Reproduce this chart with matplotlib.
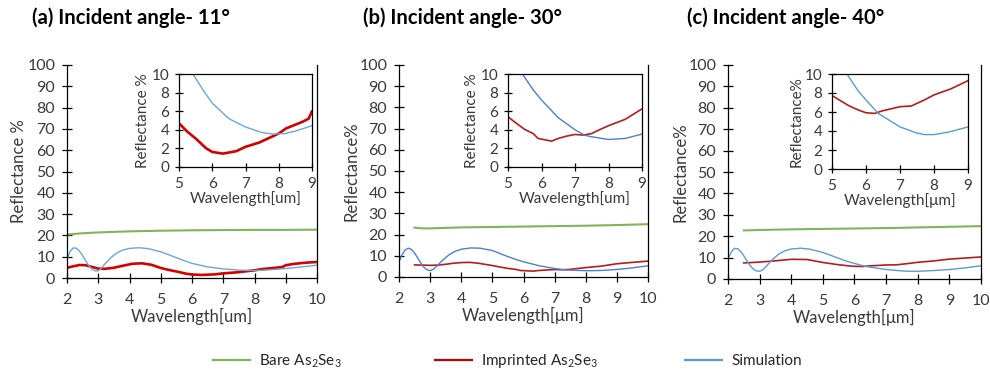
"""Reflectance spectra of bare / imprinted As2Se3 at three incident angles."""

import matplotlib
matplotlib.use("Agg")
import matplotlib.pyplot as plt

plt.rcParams["font.family"] = ["Lato", "DejaVu Sans"]
plt.rcParams["mathtext.fontset"] = "custom"
plt.rcParams["mathtext.rm"] = "Lato"

TITLES = ["(a) Incident angle- 11°", "(b) Incident angle- 30°", "(c) Incident angle- 40°"]
YLABELS = ["Reflectance %", "Reflectance%", "Reflectance%"]
XLABELS = ["Wavelength[um]", "Wavelength[μm]", "Wavelength[μm]"]
INSET_YLABELS = ["Reflectance %", "Reflectance %", "Reflectance%"]
INSET_XLABELS = ["Wavelength[um]", "Wavelength[um]", "Wavelength[μm]"]

# (a) 11 deg
bare_a_x = [2.0, 2.5, 3.0, 4.0, 5.0, 6.0, 7.0, 8.0, 9.0, 10.0]
bare_a_y = [20.4, 21.0, 21.4, 21.9, 22.2, 22.4, 22.5, 22.6, 22.6, 22.7]
imp_a_x = [2.0, 2.2, 2.4, 2.6, 2.8, 3.0, 3.2, 3.5, 3.8, 4.1, 4.4, 4.7, 5.0, 5.25, 5.5,
           5.82, 6.0, 6.32, 6.72, 7.0, 7.42, 7.72, 8.0, 8.22, 8.52, 8.72, 8.9,
           9.0, 9.25, 9.5, 9.75, 10.0]
imp_a_y = [4.8, 5.5, 6.1, 6.0, 5.2, 4.4, 4.3, 4.8, 5.8, 6.7, 6.9, 6.2, 4.7, 3.8, 3.07,
           2.0, 1.62, 1.44, 1.7, 2.17, 2.64, 3.14, 3.6, 4.15, 4.58, 4.87, 5.2,
           6.0, 6.6, 7.0, 7.3, 7.5]
sim_a_x = [2.0, 2.1, 2.2, 2.3, 2.4, 2.5, 2.6, 2.7, 2.8, 2.9, 3.0, 3.1, 3.2, 3.4, 3.6,
           3.8, 4.0, 4.3, 4.6, 5.0, 5.42, 5.72, 6.0, 6.5, 7.0, 7.5, 7.82, 8.2, 8.5, 9.0,
           9.5, 10.0]
sim_a_y = [8.7, 12.5, 14.1, 14.0, 12.6, 10.5, 8.0, 5.8, 4.1, 3.3, 3.4, 4.6, 6.4, 9.5, 11.8,
           13.2, 13.9, 14.2, 13.8, 12.3, 10.0, 8.3, 6.86, 5.2, 4.3, 3.7, 3.54, 3.6, 3.86, 4.44,
           5.2, 6.0]

# (b) 30 deg
bare_b_x = [2.5, 2.7, 2.9, 4.0, 5.0, 6.0, 7.0, 8.0, 9.0, 10.0]
bare_b_y = [23.3, 23.0, 22.9, 23.4, 23.6, 23.8, 24.0, 24.2, 24.5, 24.9]
imp_b_x = [2.5, 2.75, 3.0, 3.25, 3.5, 3.75, 4.0, 4.25, 4.5, 4.75, 5.0, 5.25, 5.5, 5.75,
           5.9, 6.0, 6.3, 6.5, 6.75, 7.0, 7.25, 7.5, 7.75, 8.0, 8.5, 9.0, 9.5, 10.0]
imp_b_y = [5.7, 5.6, 5.5, 5.6, 6.0, 6.5, 6.8, 6.9, 6.6, 6.0, 5.4, 4.7, 4.04, 3.6,
           3.07, 3.0, 2.78, 3.07, 3.32, 3.5, 3.43, 3.6, 4.04, 4.44, 5.13, 6.25, 6.9, 7.5]
sim_b_x = [2.0, 2.1, 2.2, 2.3, 2.4, 2.5, 2.6, 2.7, 2.8, 2.9, 3.0, 3.1, 3.2, 3.4, 3.6,
           3.8, 4.0, 4.3, 4.6, 5.0, 5.43, 5.75, 6.0, 6.5, 7.0, 7.3, 7.5, 8.0, 8.5, 9.0,
           9.5, 10.0]
sim_b_y = [7.2, 10.5, 12.8, 13.6, 13.0, 11.3, 9.0, 6.6, 4.6, 3.4, 3.0, 3.6, 4.9, 7.9, 10.4,
           12.1, 13.1, 13.7, 13.6, 12.5, 10.0, 8.3, 7.2, 5.3, 4.0, 3.4, 3.25, 2.96, 3.07, 3.54,
           4.3, 5.3]

# (c) 40 deg
bare_c_x = [2.5, 3.0, 4.0, 5.0, 6.0, 7.0, 8.0, 9.0, 10.0]
bare_c_y = [22.7, 22.9, 23.2, 23.4, 23.6, 23.8, 24.1, 24.4, 24.7]
imp_c_x = [2.5, 3.0, 3.5, 4.0, 4.5, 5.0, 5.49, 5.78, 6.0, 6.26, 6.46, 7.0, 7.33, 7.72,
           8.0, 8.5, 9.0, 9.5, 10.0]
imp_c_y = [7.5, 7.9, 8.5, 9.2, 9.1, 7.73, 6.67, 6.2, 5.92, 5.85, 6.1, 6.56, 6.63, 7.27,
           7.8, 8.44, 9.3, 9.8, 10.3]
sim_c_x = [2.0, 2.1, 2.2, 2.3, 2.4, 2.5, 2.6, 2.7, 2.8, 2.9, 3.0, 3.1, 3.2, 3.4, 3.6,
           3.8, 4.0, 4.3, 4.6, 5.0, 5.44, 5.78, 6.0, 6.36, 7.0, 7.48, 7.72, 8.0, 8.45, 9.0,
           9.5, 10.0]
sim_c_y = [9.3, 12.5, 14.3, 14.2, 12.9, 10.8, 8.4, 6.3, 4.6, 3.8, 3.6, 4.3, 5.8, 9.0, 11.6,
           13.2, 14.0, 14.4, 13.9, 12.4, 10.0, 8.16, 7.27, 5.85, 4.43, 3.8, 3.62, 3.62, 3.9, 4.43,
           5.2, 6.2]

PANELS = [
    (bare_a_x, bare_a_y, imp_a_x, imp_a_y, sim_a_x, sim_a_y),
    (bare_b_x, bare_b_y, imp_b_x, imp_b_y, sim_b_x, sim_b_y),
    (bare_c_x, bare_c_y, imp_c_x, imp_c_y, sim_c_x, sim_c_y),
]

GREEN = "#7db55a"
RED = ["#d40000", "#b51d1d", "#b51d1d"]
RED_LW = [1.9, 1.2, 1.2]
BLUE = ["#6aa6dc", "#4a80d4", "#5b9bd5"]
TICK_GRAY = "#3a3a3a"

# pixel boxes (left, right, top, bottom)
MAIN_BOX = [(67, 317, 65, 278), (399, 648, 65, 277), (728, 981, 65, 279)]
INSET_BOX = [(179, 312, 74, 167), (508, 642, 74, 167), (832, 968, 74, 169)]
TITLE_X = [32, 363, 687]

W, H = 990, 371
fig = plt.figure(figsize=(W / 100, H / 100), dpi=100)


def to_rect(box):
    l, r, t, b = box
    return [l / W, 1 - b / H, (r - l) / W, (b - t) / H]


def style(ax, size, length, xpad, ypad):
    ax.tick_params(direction="inout", length=length, width=0.9, colors="black",
                   labelcolor=TICK_GRAY, labelsize=size)
    ax.tick_params(axis="x", pad=xpad)
    ax.tick_params(axis="y", pad=ypad)
    for s in ax.spines.values():
        s.set_linewidth(0.9)


for i, (bx, by, ix, iy, sx, sy) in enumerate(PANELS):
    ax = fig.add_axes(to_rect(MAIN_BOX[i]))
    ax.plot(bx, by, color=GREEN, lw=1.5)
    ax.plot(ix, iy, color=RED[i], lw=RED_LW[i])
    ax.plot(sx, sy, color=BLUE[i], lw=1.0)
    ax.set_xlim(2, 10)
    ax.set_ylim(0, 100)
    ax.set_xticks(range(2, 11))
    ax.set_yticks(range(0, 101, 10))
    ax.spines["top"].set_visible(False)
    style(ax, 11.5, 7, 7, 5)
    ax.set_ylabel(YLABELS[i], fontsize=12, color=TICK_GRAY, labelpad=0)
    ax.set_xlabel(XLABELS[i], fontsize=12, color=TICK_GRAY, labelpad=1)

    ins = fig.add_axes(to_rect(INSET_BOX[i]))
    ins.plot(ix, iy, color=RED[i], lw=RED_LW[i])
    ins.plot(sx, sy, color=BLUE[i], lw=1.0)
    ins.set_xlim(5, 9)
    ins.set_ylim(0, 10)
    ins.set_xticks(range(5, 10))
    ins.set_yticks(range(0, 11, 2))
    style(ins, 11, 6, 4.5, 4)
    ins.set_ylabel(INSET_YLABELS[i], fontsize=11, color=TICK_GRAY, labelpad=1)
    ins.set_xlabel(INSET_XLABELS[i], fontsize=11, color=TICK_GRAY, labelpad=0)

    fig.text(TITLE_X[i] / W, 1 - 18 / H, TITLES[i], fontsize=14.6, fontweight="bold",
             va="center", ha="left")

# legend row at the bottom
LEG_LABELS = ["Bare As$_\\mathregular{2}$Se$_\\mathregular{3}$",
              "Imprinted As$_\\mathregular{2}$Se$_\\mathregular{3}$",
              "Simulation"]
LEG_COLORS = [GREEN, "#c00000", "#5b9bd5"]
LEG_X = [213, 435, 685]
for k in range(3):
    proxy = plt.Line2D([], [], color=LEG_COLORS[k], lw=1.6)
    fig.legend(handles=[proxy], labels=[LEG_LABELS[k]], loc="center left",
               bbox_to_anchor=(LEG_X[k] / W, 1 - 361 / H), frameon=False,
               fontsize=11, handlelength=2.42, handletextpad=0.6, borderpad=0,
               borderaxespad=0, labelcolor="#262626")

fig.savefig("out.png", dpi=100)
